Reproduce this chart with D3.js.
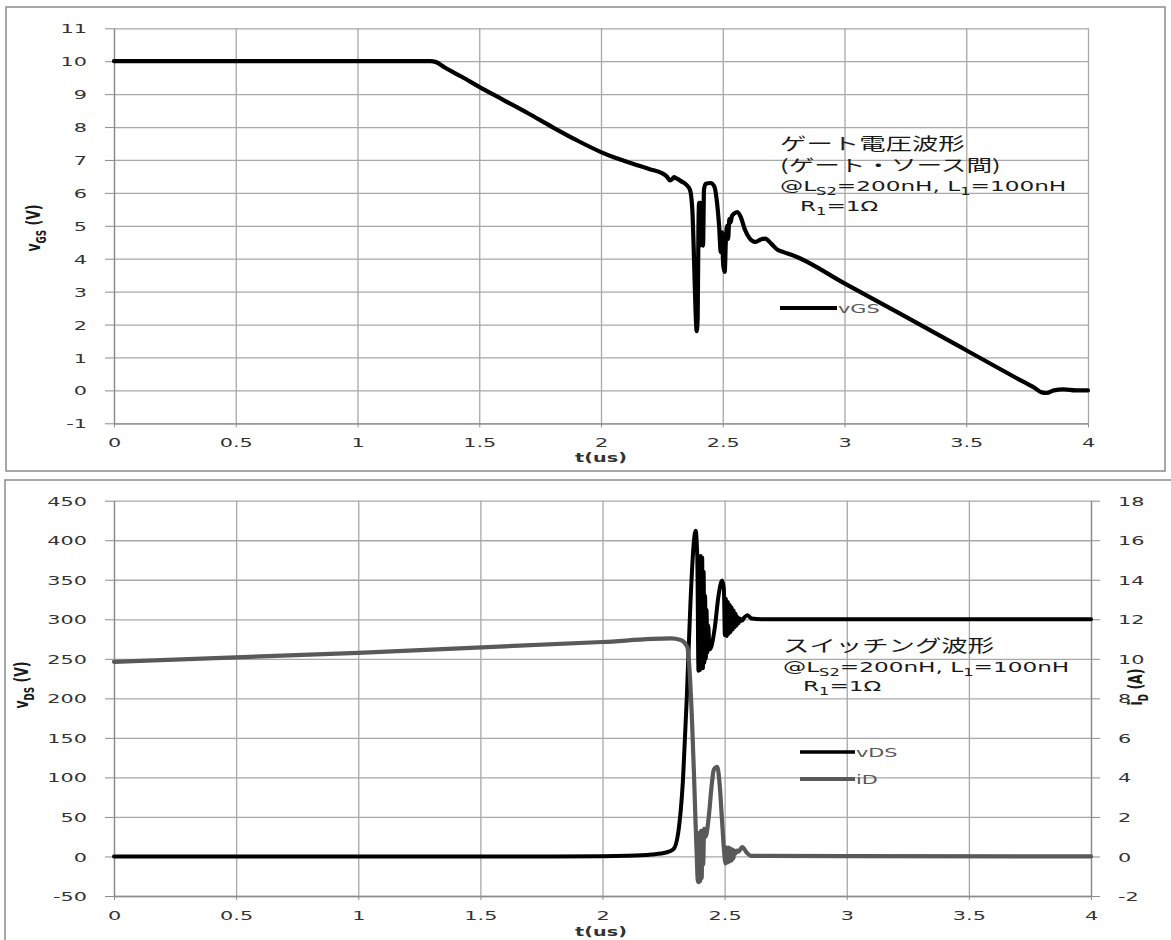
<!DOCTYPE html>
<html>
<head>
<meta charset="utf-8">
<script src="https://cdn.jsdelivr.net/npm/d3@7"></script>
<style>
  html, body { margin: 0; padding: 0; background: #ffffff; }
  svg { display: block; }
</style>
</head>
<body>
<svg id="chart" width="1171" height="940"></svg>
<script>
// ---- gate voltage waveform (upper panel) ----
const vgsTime = [0, 1.0, 1.3, 1.32, 1.36, 1.43, 1.5, 1.6, 1.7, 1.8, 1.9, 2.0, 2.05, 2.1, 2.2, 2.25, 2.27, 2.283, 2.293, 2.30, 2.31, 2.33, 2.35, 2.365, 2.375, 2.382, 2.388, 2.393, 2.397, 2.400, 2.403, 2.406, 2.409, 2.412, 2.415, 2.419, 2.423, 2.43, 2.45, 2.465, 2.475, 2.485, 2.492, 2.497, 2.502, 2.508, 2.513, 2.518, 2.522, 2.527, 2.532, 2.538, 2.548, 2.56, 2.575, 2.59, 2.61, 2.633, 2.655, 2.674, 2.70, 2.725, 2.75, 2.79, 3.0, 3.228, 3.5, 3.70, 3.78, 3.81, 3.83, 3.86, 3.9, 3.95, 4.0];
const vgsValue = [10, 10, 10, 9.98, 9.8, 9.52, 9.22, 8.82, 8.42, 8.0, 7.6, 7.24, 7.09, 6.96, 6.72, 6.6, 6.5, 6.38, 6.42, 6.48, 6.44, 6.35, 6.25, 6.1, 5.5, 4.0, 2.5, 1.8, 2.2, 4.8, 5.7, 4.4, 5.7, 4.5, 5.6, 4.4, 6.1, 6.28, 6.3, 6.2, 5.8, 5.0, 4.2, 4.8, 3.8, 3.6, 4.6, 5.0, 4.6, 5.2, 5.1, 5.3, 5.38, 5.42, 5.25, 4.9, 4.62, 4.51, 4.58, 4.61, 4.45, 4.27, 4.2, 4.1, 3.25, 2.33, 1.22, 0.4, 0.08, -0.06, -0.08, 0.0, 0.03, 0.0, 0.0];

// ---- switching waveforms (lower panel) ----
const vdsTime = [0, 1.5, 2.0, 2.1, 2.2, 2.26, 2.29, 2.31, 2.33, 2.345, 2.36, 2.372, 2.381, 2.388, 2.393, 2.396, 2.399, 2.402, 2.405, 2.408, 2.411, 2.414, 2.417, 2.420, 2.423, 2.426, 2.429, 2.433, 2.438, 2.445, 2.46, 2.475, 2.49, 2.497, 2.501, 2.505, 2.509, 2.513, 2.517, 2.521, 2.525, 2.529, 2.533, 2.537, 2.541, 2.545, 2.549, 2.553, 2.557, 2.562, 2.57, 2.58, 2.593, 2.61, 2.65, 4.0];
const vdsValue = [0, 0, 0.3, 0.8, 2.5, 5, 9, 30, 100, 200, 320, 390, 412, 380, 235, 360, 236, 380, 240, 378, 238, 360, 245, 330, 250, 312, 258, 292, 262, 265, 290, 330, 349, 338, 280, 326, 279, 322, 282, 318, 284, 315, 287, 311, 290, 307, 292, 303, 295, 301, 298, 302, 305, 301, 300, 300];

const idTime = [0, 1.0, 2.0, 2.28, 2.32, 2.347, 2.357, 2.367, 2.375, 2.381, 2.386, 2.39, 2.394, 2.397, 2.400, 2.403, 2.406, 2.409, 2.412, 2.416, 2.422, 2.435, 2.447, 2.456, 2.47, 2.48, 2.49, 2.497, 2.504, 2.508, 2.512, 2.516, 2.52, 2.524, 2.528, 2.532, 2.536, 2.54, 2.545, 2.55, 2.557, 2.572, 2.59, 2.607, 4.0];
const idValue = [9.85, 10.3, 10.85, 11.03, 10.95, 10.6, 9.3, 6.7, 4.0, 1.7, 0.0, -1.2, -1.3, 1.2, -1.25, 1.3, -1.1, 1.3, -0.4, 1.4, 1.0, 2.0, 3.6, 4.4, 4.53, 3.6, 1.7, 0.4, -0.35, 0.45, -0.3, 0.45, -0.25, 0.4, -0.2, 0.35, -0.1, 0.3, 0.15, 0.3, 0.25, 0.48, 0.2, 0.03, 0.0];

// ---- axis ticks ----
const timeTicks = [0, 0.5, 1, 1.5, 2, 2.5, 3, 3.5, 4];
const vgsTicks = [-1, 0, 1, 2, 3, 4, 5, 6, 7, 8, 9, 10, 11];
const vdsTicks = [-50, 0, 50, 100, 150, 200, 250, 300, 350, 400, 450];
const idTicks = [-2, 0, 2, 4, 6, 8, 10, 12, 14, 16, 18];

const SX = 1.6;                 // horizontal stretch of all lettering
const TXT = "#333333";
const GRID = "#a8a8a8";
const AXIS = "#8c8c8c";
const LATIN = "'DejaVu Sans', Verdana, sans-serif";
const CJK = "'Noto Sans CJK JP', 'DejaVu Sans', sans-serif";
const fmt = d => String(d);    // plain hyphen for negatives

const svg = d3.select("#chart");

// stretched text helper; parts = [[string, isSubscript], ...]
function label(g, x, y, parts, opt) {
  const o = Object.assign({anchor: "start", size: 13, weight: "normal", fill: TXT, family: LATIN, rotate: 0}, opt || {});
  const t = g.append("text")
    .attr("transform", `translate(${x},${y}) scale(${SX},1)` + (o.rotate ? ` rotate(${o.rotate})` : ""))
    .attr("text-anchor", o.anchor)
    .attr("font-family", o.family)
    .attr("font-size", o.size)
    .attr("font-weight", o.weight)
    .attr("fill", o.fill);
  let down = false;
  parts.forEach(([s, sub]) => {
    const sp = t.append("tspan").text(s);
    if (sub && !down) { sp.attr("dy", o.size * 0.3).attr("font-size", o.size * 0.7); down = true; }
    else if (sub) { sp.attr("font-size", o.size * 0.7); }
    else if (down) { sp.attr("dy", -o.size * 0.3); down = false; }
  });
  return t;
}

function styleTickText(sel, dx, anchor) {
  sel.selectAll(".tick text")
    .attr("font-family", LATIN)
    .attr("font-size", 13)
    .attr("fill", TXT)
    .attr("text-anchor", anchor)
    .attr("x", dx / SX)
    .attr("y", 0)
    .attr("dy", "0.35em")
    .attr("transform", `scale(${SX},1)`);
}

function grid(g, x, y, xTicks, yTicks) {
  const [x0, x1] = x.range();
  const [y0, y1] = y.range();
  g.append("g").attr("transform", `translate(0,${y0})`)
    .call(d3.axisBottom(x).tickValues(xTicks).tickSize(-(y0 - y1)).tickFormat(""))
    .call(s => s.select(".domain").remove())
    .call(s => s.selectAll("line").attr("stroke", GRID).attr("stroke-width", 1.3));
  g.append("g").attr("transform", `translate(${x0},0)`)
    .call(d3.axisLeft(y).tickValues(yTicks).tickSize(-(x1 - x0)).tickFormat(""))
    .call(s => s.select(".domain").remove())
    .call(s => s.selectAll("line").attr("stroke", GRID).attr("stroke-width", 1.3));
}

function xAxis(g, x, yPos) {
  const a = g.append("g").attr("transform", `translate(0,${yPos})`)
    .call(d3.axisBottom(x).tickValues(timeTicks).tickSize(4).tickSizeOuter(0).tickFormat(fmt));
  a.select(".domain").attr("stroke", AXIS).attr("stroke-width", 1.3);
  a.selectAll(".tick line").attr("stroke", AXIS);
  a.selectAll(".tick text")
    .attr("font-family", LATIN).attr("font-size", 13).attr("fill", TXT)
    .attr("text-anchor", "middle").attr("x", 0).attr("y", 19).attr("dy", "0.35em")
    .attr("transform", `scale(${SX},1)`);
}

function yAxisLeft(g, y, xPos, ticks) {
  const a = g.append("g").attr("transform", `translate(${xPos},0)`)
    .call(d3.axisLeft(y).tickValues(ticks).tickSize(9).tickSizeOuter(0).tickFormat(fmt));
  a.select(".domain").attr("stroke", AXIS).attr("stroke-width", 1.3);
  a.selectAll(".tick line").attr("stroke", AXIS);
  styleTickText(a, -27, "end");
}

function yAxisRight(g, y, xPos, ticks) {
  const a = g.append("g").attr("transform", `translate(${xPos},0)`)
    .call(d3.axisRight(y).tickValues(ticks).tickSize(9).tickSizeOuter(0).tickFormat(fmt));
  a.select(".domain").attr("stroke", AXIS).attr("stroke-width", 1.3);
  a.selectAll(".tick line").attr("stroke", AXIS);
  styleTickText(a, 27, "start");
}

function trace(g, x, y, ts, vs, color, width) {
  const pts = ts.map((t, i) => [t, vs[i]]);
  g.append("path")
    .datum(pts)
    .attr("fill", "none")
    .attr("stroke", color)
    .attr("stroke-width", width)
    .attr("stroke-linejoin", "round")
    .attr("stroke-linecap", "round")
    .attr("d", d3.line().x(d => x(d[0])).y(d => y(d[1])).curve(d3.curveMonotoneX));
}

// ================= upper panel: gate voltage =================
const gatePanel = svg.append("g");
gatePanel.append("rect").attr("x", 6).attr("y", 7).attr("width", 1159).attr("height", 464)
  .attr("fill", "#fff").attr("stroke", "#8a8a8a").attr("stroke-width", 1.5);

const xT = d3.scaleLinear().domain([0, 4]).range([114, 1088]);
const yT = d3.scaleLinear().domain([-1, 11]).range([423.3, 28.3]);

grid(gatePanel, xT, yT, timeTicks, vgsTicks);
yAxisLeft(gatePanel, yT, 114, vgsTicks);
xAxis(gatePanel, xT, 423.3);
trace(gatePanel, xT, yT, vgsTime, vgsValue, "#000000", 4.2);

label(gatePanel, 601, 462, [["t(us)", false]], {anchor: "middle", size: 12, weight: "bold"});
label(gatePanel, 40, 228, [["v", false], ["GS", true], [" (V)", false]], {anchor: "middle", size: 12.5, weight: "bold", rotate: -90, fill: "#1a1a1a"});

// legend
gatePanel.append("line").attr("x1", 780).attr("x2", 837).attr("y1", 308).attr("y2", 308)
  .attr("stroke", "#000").attr("stroke-width", 4);
label(gatePanel, 838, 313, [["vGS", false]], {size: 13, fill: "#595959"});

// annotation
label(gatePanel, 780, 150, [["ゲート電圧波形", false]], {size: 16.5, family: CJK, fill: "#1a1a1a"});
label(gatePanel, 780, 171, [["(ゲート・ソース間)", false]], {size: 16, family: CJK, fill: "#1a1a1a"});
label(gatePanel, 780, 191, [["@L", false], ["S2", true], ["=200nH, L", false], ["1", true], ["=100nH", false]], {size: 14.5, fill: "#1a1a1a"});
label(gatePanel, 800, 211, [["R", false], ["1", true], ["=1Ω", false]], {size: 14.5, fill: "#1a1a1a"});

// ================= lower panel: switching waveforms =================
const swPanel = svg.append("g");
swPanel.append("rect").attr("x", 5).attr("y", 480).attr("width", 1172).attr("height", 470)
  .attr("fill", "#fff").attr("stroke", "#8a8a8a").attr("stroke-width", 1.5);

const xB = d3.scaleLinear().domain([0, 4]).range([114, 1091]);
const yL = d3.scaleLinear().domain([-50, 450]).range([896, 500.7]);
const yR = d3.scaleLinear().domain([-2, 18]).range([896, 500.7]);

grid(swPanel, xB, yL, timeTicks, vdsTicks);
yAxisLeft(swPanel, yL, 114, vdsTicks);
yAxisRight(swPanel, yR, 1091, idTicks);
xAxis(swPanel, xB, 896);
trace(swPanel, xB, yL, vdsTime, vdsValue, "#000000", 4);
trace(swPanel, xB, yR, idTime, idValue, "#595959", 4.2);

label(swPanel, 601, 936, [["t(us)", false]], {anchor: "middle", size: 12, weight: "bold"});
label(swPanel, 28, 685, [["v", false], ["DS", true], [" (V)", false]], {anchor: "middle", size: 12.5, weight: "bold", rotate: -90, fill: "#1a1a1a"});
label(swPanel, 1142, 687, [["i", false], ["D", true], [" (A)", false]], {anchor: "middle", size: 12.5, weight: "bold", rotate: -90, fill: "#1a1a1a"});

// legend
swPanel.append("line").attr("x1", 800).attr("x2", 855).attr("y1", 752).attr("y2", 752)
  .attr("stroke", "#000").attr("stroke-width", 3.6);
label(swPanel, 856, 757, [["vDS", false]], {size: 13, fill: "#595959"});
swPanel.append("line").attr("x1", 800).attr("x2", 855).attr("y1", 779).attr("y2", 779)
  .attr("stroke", "#595959").attr("stroke-width", 3.8);
label(swPanel, 856, 784, [["iD", false]], {size: 13, fill: "#595959"});

// annotation
label(swPanel, 783, 652, [["スイッチング波形", false]], {size: 16.5, family: CJK, fill: "#1a1a1a"});
label(swPanel, 783, 672, [["@L", false], ["S2", true], ["=200nH, L", false], ["1", true], ["=100nH", false]], {size: 14.5, fill: "#1a1a1a"});
label(swPanel, 803, 691, [["R", false], ["1", true], ["=1Ω", false]], {size: 14.5, fill: "#1a1a1a"});
</script>
</body>
</html>
